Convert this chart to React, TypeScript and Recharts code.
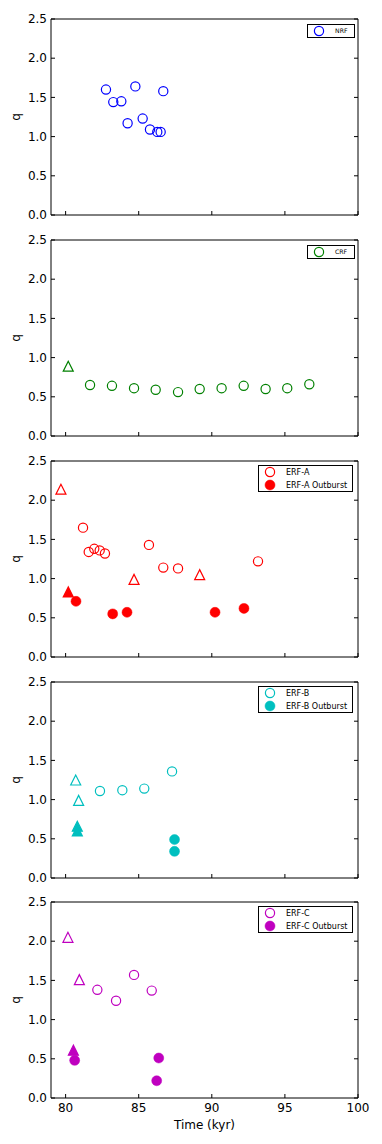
import React from "react";
import { ScatterChart, Scatter, XAxis, YAxis } from "recharts";

// time (kyr) / q values
const nrfTime = [82.76, 83.26, 83.81, 84.24, 84.77, 85.27, 85.77, 86.27, 86.5, 86.68];
const nrfQ = [1.6, 1.44, 1.45, 1.17, 1.64, 1.23, 1.09, 1.06, 1.06, 1.58];

const crfTriTime = [80.18];
const crfTriQ = [0.89];
const crfTime = [81.67, 83.17, 84.68, 86.16, 87.69, 89.17, 90.67, 92.18, 93.68, 95.16, 96.67];
const crfQ = [0.65, 0.64, 0.61, 0.59, 0.56, 0.6, 0.61, 0.64, 0.6, 0.61, 0.66];

const erfATriTime = [79.68, 84.68, 89.17];
const erfATriQ = [2.14, 0.99, 1.05];
const erfATime = [81.19, 81.58, 81.96, 82.33, 82.69, 85.7, 86.68, 87.69, 93.16];
const erfAQ = [1.65, 1.34, 1.38, 1.36, 1.32, 1.43, 1.14, 1.13, 1.22];
const erfAOutTriTime = [80.18];
const erfAOutTriQ = [0.83];
const erfAOutTime = [80.71, 83.22, 84.2, 90.22, 92.2];
const erfAOutQ = [0.71, 0.55, 0.57, 0.57, 0.62];

const erfBTriTime = [80.69, 80.89];
const erfBTriQ = [1.25, 0.99];
const erfBTime = [82.35, 83.88, 85.38, 87.28];
const erfBQ = [1.11, 1.12, 1.14, 1.36];
const erfBOutTriTime = [80.8, 80.8];
const erfBOutTriQ = [0.66, 0.6];
const erfBOutTime = [87.45, 87.45];
const erfBOutQ = [0.49, 0.34];

const erfCTriTime = [80.16, 80.94];
const erfCTriQ = [2.05, 1.51];
const erfCTime = [82.17, 83.45, 84.68, 85.89];
const erfCQ = [1.38, 1.24, 1.57, 1.37];
const erfCOutTriTime = [80.53];
const erfCOutTriQ = [0.61];
const erfCOutTime = [80.62, 86.37, 86.23];
const erfCOutQ = [0.48, 0.51, 0.22];

const xTicks = [80, 85, 90, 95, 100];
const yTicks = [0, 0.5, 1, 1.5, 2, 2.5];

const FONT = "'DejaVu Sans', sans-serif";
const PLOT_H = 196;

type Mark = "circle" | "triangle";
interface Series {
  time: number[];
  q: number[];
  color: string;
  mark: Mark;
  filled: boolean;
}
interface LegendItem {
  label: string;
  filled: boolean;
}

const zip = (t: number[], q: number[]) => t.map((x, i) => ({ x, y: q[i] }));

function markShape(mark: Mark, color: string, filled: boolean) {
  return (p: any) => {
    const fill = filled ? color : "none";
    if (mark === "triangle") {
      const s = 5;
      const pts = `${p.cx},${p.cy - s} ${p.cx - s},${p.cy + s} ${p.cx + s},${p.cy + s}`;
      return <polygon points={pts} fill={fill} stroke={color} strokeWidth={1.2} />;
    }
    return <circle cx={p.cx} cy={p.cy} r={filled ? 5 : 4.6} fill={fill} stroke={color} strokeWidth={filled ? 0.5 : 1.2} />;
  };
}

function Legend({ items, color }: { items: LegendItem[]; color: string }) {
  const small = items.length === 1;
  const w = small ? 48 : 95;
  const h = small ? 14 : 27;
  return (
    <svg width={w} height={h} style={{ position: "absolute", left: small ? 307 : 258, top: 0 }}>
      <rect x={0.5} y={0.5} width={w - 1} height={h - 1} fill="#fff" stroke="#000" strokeWidth={1} />
      {items.map((it, i) => (
        <g key={it.label}>
          <circle
            cx={12}
            cy={7 + i * 13}
            r={it.filled ? 5 : 4.6}
            fill={it.filled ? color : "none"}
            stroke={color}
            strokeWidth={it.filled ? 0.5 : 1.2}
          />
          <text x={28} y={7 + i * 13} dy="0.36em" fontFamily={FONT} fontSize={small ? 6.2 : 8} fill="#000">
            {it.label}
          </text>
        </g>
      ))}
    </svg>
  );
}

function Panel({
  top,
  series,
  legend,
  color,
  last,
}: {
  top: number;
  series: Series[];
  legend: LegendItem[];
  color: string;
  last?: boolean;
}) {
  const T = 10;
  const B = last ? 44 : 20;
  const H = T + PLOT_H + B;
  const tickStyle = { fontFamily: FONT, fontSize: 12, fill: "#000" };
  const axisLine = { stroke: "#000", strokeWidth: 1 };
  const midY = T + PLOT_H / 2;
  return (
    <div style={{ position: "absolute", left: 0, top: top - T, width: 382, height: H }}>
      <ScatterChart width={382} height={H} margin={{ top: 0, right: 0, bottom: 0, left: 0 }}>
        <XAxis
          dataKey="x"
          type="number"
          domain={[79, 100]}
          ticks={xTicks}
          interval={0}
          allowDataOverflow
          height={B}
          tickSize={-4}
          tickMargin={9}
          axisLine={axisLine}
          tickLine={axisLine}
          tick={tickStyle}
          tickFormatter={(v: number) => (last ? String(v) : "")}
        />
        <XAxis
          xAxisId="t"
          orientation="top"
          type="number"
          domain={[79, 100]}
          ticks={xTicks}
          interval={0}
          allowDataOverflow
          height={T}
          tickSize={-4}
          axisLine={axisLine}
          tickLine={axisLine}
          tickFormatter={() => ""}
        />
        <YAxis
          dataKey="y"
          type="number"
          domain={[0, 2.5]}
          ticks={yTicks}
          interval={0}
          allowDataOverflow
          width={51}
          tickSize={-4}
          tickMargin={8}
          axisLine={axisLine}
          tickLine={axisLine}
          tick={tickStyle}
          tickFormatter={(v: number) => v.toFixed(1)}
        />
        <YAxis
          yAxisId="r"
          orientation="right"
          type="number"
          domain={[0, 2.5]}
          ticks={yTicks}
          interval={0}
          allowDataOverflow
          width={24}
          tickSize={-4}
          axisLine={axisLine}
          tickLine={axisLine}
          tickFormatter={() => ""}
        />
        {series.map((s, i) => (
          <Scatter
            key={i}
            data={zip(s.time, s.q)}
            isAnimationActive={false}
            shape={markShape(s.mark, s.color, s.filled)}
          />
        ))}
        <text
          x={19.5}
          y={midY}
          transform={`rotate(-90 19.5 ${midY})`}
          textAnchor="middle"
          fontFamily={FONT}
          fontSize={12}
          fill="#000"
        >
          q
        </text>
        {last && (
          <text x={204.5} y={T + PLOT_H + 31} textAnchor="middle" fontFamily={FONT} fontSize={12} fill="#000">
            Time (kyr)
          </text>
        )}
      </ScatterChart>
      <div style={{ position: "absolute", top: T + (legend.length === 1 ? 5 : 4), left: 0, width: 382 }}>
        <Legend items={legend} color={color} />
      </div>
    </div>
  );
}

const BLUE = "#0000ff";
const GREEN = "#008000";
const RED = "#ff0000";
const CYAN = "#00bfbf";
const MAGENTA = "#bf00bf";

export default function App() {
  return (
    <div style={{ position: "absolute", left: 0, top: 0, width: 382, height: 1144, background: "#fff" }}>
      <Panel
        top={19}
        color={BLUE}
        legend={[{ label: "NRF", filled: false }]}
        series={[{ time: nrfTime, q: nrfQ, color: BLUE, mark: "circle", filled: false }]}
      />
      <Panel
        top={240}
        color={GREEN}
        legend={[{ label: "CRF", filled: false }]}
        series={[
          { time: crfTriTime, q: crfTriQ, color: GREEN, mark: "triangle", filled: false },
          { time: crfTime, q: crfQ, color: GREEN, mark: "circle", filled: false },
        ]}
      />
      <Panel
        top={461}
        color={RED}
        legend={[
          { label: "ERF-A", filled: false },
          { label: "ERF-A Outburst", filled: true },
        ]}
        series={[
          { time: erfATriTime, q: erfATriQ, color: RED, mark: "triangle", filled: false },
          { time: erfATime, q: erfAQ, color: RED, mark: "circle", filled: false },
          { time: erfAOutTriTime, q: erfAOutTriQ, color: RED, mark: "triangle", filled: true },
          { time: erfAOutTime, q: erfAOutQ, color: RED, mark: "circle", filled: true },
        ]}
      />
      <Panel
        top={682}
        color={CYAN}
        legend={[
          { label: "ERF-B", filled: false },
          { label: "ERF-B Outburst", filled: true },
        ]}
        series={[
          { time: erfBTriTime, q: erfBTriQ, color: CYAN, mark: "triangle", filled: false },
          { time: erfBTime, q: erfBQ, color: CYAN, mark: "circle", filled: false },
          { time: erfBOutTriTime, q: erfBOutTriQ, color: CYAN, mark: "triangle", filled: true },
          { time: erfBOutTime, q: erfBOutQ, color: CYAN, mark: "circle", filled: true },
        ]}
      />
      <Panel
        top={902}
        color={MAGENTA}
        last
        legend={[
          { label: "ERF-C", filled: false },
          { label: "ERF-C Outburst", filled: true },
        ]}
        series={[
          { time: erfCTriTime, q: erfCTriQ, color: MAGENTA, mark: "triangle", filled: false },
          { time: erfCTime, q: erfCQ, color: MAGENTA, mark: "circle", filled: false },
          { time: erfCOutTriTime, q: erfCOutTriQ, color: MAGENTA, mark: "triangle", filled: true },
          { time: erfCOutTime, q: erfCOutQ, color: MAGENTA, mark: "circle", filled: true },
        ]}
      />
    </div>
  );
}
